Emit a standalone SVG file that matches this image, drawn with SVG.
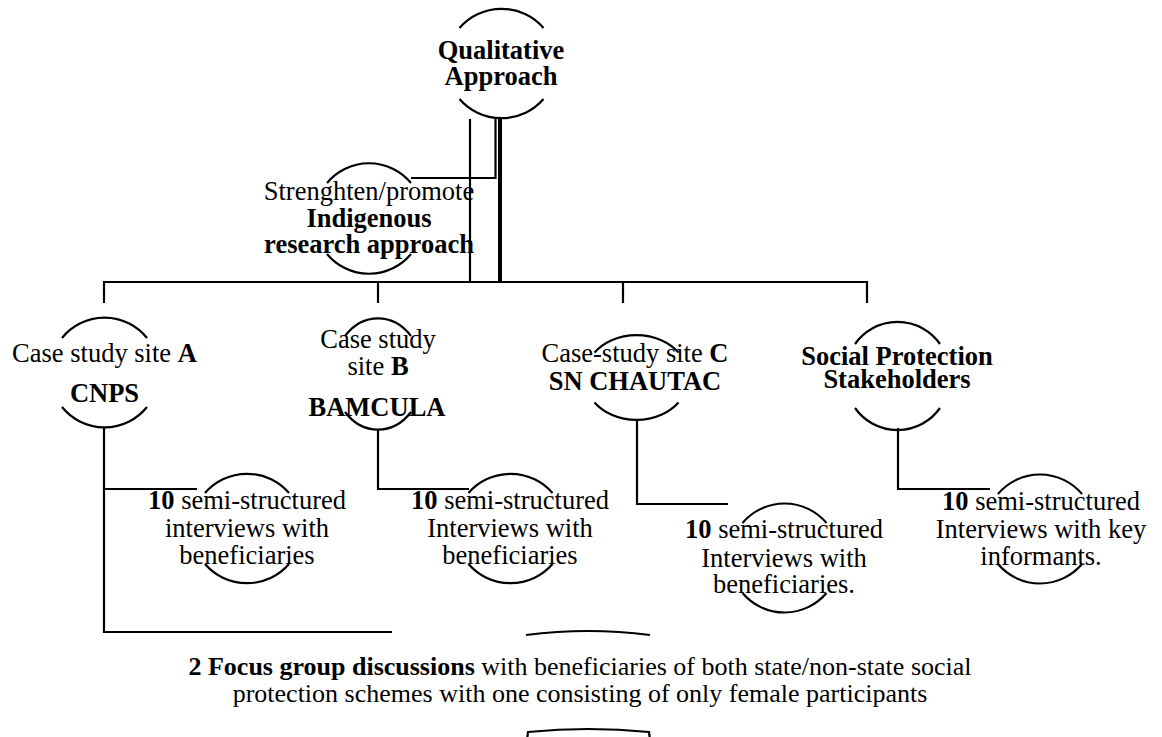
<svg xmlns="http://www.w3.org/2000/svg" width="1162" height="737" viewBox="0 0 1162 737">
<style>
.arc{fill:none;stroke:#000;stroke-width:2.2}
.ln{fill:none;stroke:#000;stroke-width:2.2}
text{font-family:"Liberation Serif","Times New Roman",serif;font-size:26.5px;fill:#000;text-anchor:middle}
.b{font-weight:bold}
.ft{font-size:26px}
</style>
<rect width="1162" height="737" fill="#fff"/>
<g id="connectors">
<path class="ln" d="M470,119 V282" stroke-width="1.6"/>
<path class="ln" d="M495.5,119 V178 H411" stroke-width="1.6"/>
<path class="ln" d="M500,119 V282" style="stroke-width:4"/>
<path class="ln" d="M104,303 V282 H867 V303"/>
<path class="ln" d="M378,282 V303"/>
<path class="ln" d="M623,282 V303"/>
<path class="ln" d="M104,427 V632 H392"/>
<path class="ln" d="M104,489 H197"/>
<path class="ln" d="M378,429 V489 H469"/>
<path class="ln" d="M637,420 V504 H728"/>
<path class="ln" d="M898,428 V489 H990"/>
</g>
<g id="n-qualitative">
<path class="arc" d="M459.5,28 A55.5,55.5 0 0 1 543.5,28"/>
<path class="arc" d="M459.5,99 A55.5,55.5 0 0 0 543.5,99"/>
<text x="501" y="59" class="b">Qualitative</text>
<text x="501" y="85" class="b">Approach</text>
</g>
<g id="n-indigenous">
<path class="arc" d="M327,183 A54.5,54.5 0 0 1 411,183"/>
<path class="arc" d="M327,254 A54.5,54.5 0 0 0 411,254"/>
<text x="369" y="200">Strenghten/promote</text>
<text x="369" y="227" class="b">Indigenous</text>
<text x="369" y="253" class="b">research approach</text>
</g>
<g id="n-siteA">
<path class="arc" d="M62,338 A54.5,54.5 0 0 1 147,338"/>
<path class="arc" d="M62,407 A54.5,54.5 0 0 0 147,407"/>
<text x="104.5" y="362">Case study site <tspan class="b">A</tspan></text>
<text x="104.5" y="402" class="b">CNPS</text>
</g>
<g id="n-siteB">
<path class="arc" d="M345,336 A45,55 0 0 1 411,336"/>
<path class="arc" d="M345,412 A45,55 0 0 0 411,412"/>
<text x="378" y="348">Case study</text>
<text x="378" y="375">site <tspan class="b">B</tspan></text>
<text x="377" y="416" class="b">BAMCULA</text>
</g>
<g id="n-siteC">
<path class="arc" d="M594.5,352.5 A52,42.5 0 0 1 678.5,352.5"/>
<path class="arc" d="M594.5,402.5 A52,42.5 0 0 0 678.5,402.5"/>
<text x="635" y="362">Case-study site <tspan class="b">C</tspan></text>
<text x="635" y="390" class="b">SN CHAUTAC</text>
</g>
<g id="n-stakeholders">
<path class="arc" d="M855,344 A52,52 0 0 1 940,344"/>
<path class="arc" d="M855,408 A52,52 0 0 0 940,408"/>
<text x="897" y="365" class="b">Social Protection</text>
<text x="897" y="388" class="b">Stakeholders</text>
</g>
<g id="n-interviewsA">
<path class="arc" d="M205,493 A55.5,55.5 0 0 1 289,493"/>
<path class="arc" d="M205,564 A55.5,55.5 0 0 0 289,564"/>
<text x="247" y="509"><tspan class="b">10</tspan> semi-structured</text>
<text x="247" y="537">interviews with</text>
<text x="247" y="564">beneficiaries</text>
</g>
<g id="n-interviewsB">
<path class="arc" d="M468.5,493 A55.5,55.5 0 0 1 552.5,493"/>
<path class="arc" d="M468.5,564 A55.5,55.5 0 0 0 552.5,564"/>
<text x="510" y="509"><tspan class="b">10</tspan> semi-structured</text>
<text x="510" y="537">Interviews with</text>
<text x="510" y="564">beneficiaries</text>
</g>
<g id="n-interviewsC">
<path class="arc" d="M742.5,523 A55,55 0 0 1 826.5,523"/>
<path class="arc" d="M742.5,593 A55,55 0 0 0 826.5,593"/>
<text x="784" y="538"><tspan class="b">10</tspan> semi-structured</text>
<text x="784" y="567">Interviews with</text>
<text x="784" y="593">beneficiaries.</text>
</g>
<g id="n-interviewsSP">
<path class="arc" d="M998,494 A55,55 0 0 1 1082,494"/>
<path class="arc" d="M998,564 A55,55 0 0 0 1082,564"/>
<text x="1041" y="510"><tspan class="b">10</tspan> semi-structured</text>
<text x="1041" y="538">Interviews with key</text>
<text x="1041" y="565">informants.</text>
</g>
<g id="n-focus">
<path class="arc" d="M526,635 Q588,627 650,635"/>
<text x="580" y="675" class="ft"><tspan class="b">2 Focus group discussions</tspan> with beneficiaries of both state/non-state social</text>
<text x="580" y="702" class="ft">protection schemes with one consisting of only female participants</text>
<path class="arc" d="M527,740 L528,732 Q588,726 649,732 L650,740"/>
</g>
</svg>
